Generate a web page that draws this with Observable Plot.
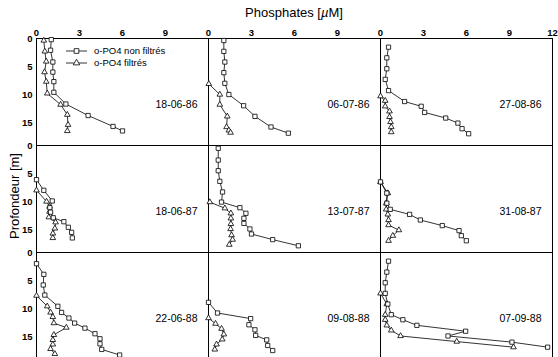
<!DOCTYPE html>
<html><head><meta charset="utf-8">
<script src="https://cdn.jsdelivr.net/npm/d3@7"></script>
<script src="https://cdn.jsdelivr.net/npm/@observablehq/plot@0.6"></script>
<style>
body{margin:0;background:#fff;font-family:"Liberation Sans",Arial,Helvetica,sans-serif;}
#wrap{position:relative;width:558px;height:357px;overflow:hidden;background:#fff}
#title{position:absolute;left:194px;width:200px;top:6px;text-align:center;font-size:13px;line-height:13px;color:#000}
#ylab{position:absolute;left:14px;top:196px;transform:translate(-50%,-50%) rotate(-90deg);white-space:nowrap;font-size:13px;line-height:13px;color:#000}
#legend{position:absolute;left:60px;top:42px}
</style></head><body>
<div id="wrap">
  <div id="chart"></div>
  <div id="title">Phosphates [<i>µ</i>M]</div>
  <div id="ylab">Profondeur [m]</div>
  <svg id="legend" width="130" height="30"></svg>
</div>
<script>
// Tick labels
const xTicks = [0, 3, 6, 9];
const xTickLast = [12];
const yTicks = [0, 5, 10, 15];
const seriesNames = ["o-PO4 non filtrés", "o-PO4 filtrés"];
const dates = ["18-06-86", "06-07-86", "27-08-86", "18-06-87", "13-07-87", "31-08-87", "22-06-88", "09-08-88", "07-09-88"];

// [depth (m), phosphate (µM)]
const nf_180686 = [[0.2,1.03],[2.1,0.98],[4.2,1.14],[6.0,1.14],[7.7,1.21],[9.6,1.21],[11.7,2.05],[13.75,3.6],[15.7,5.34],[16.5,6.0]];
const f_180686  = [[0.36,0.51],[2.3,0.58],[4.1,0.68],[6.0,0.56],[7.7,0.68],[9.8,0.75],[11.8,1.68],[13.6,2.15],[15.4,2.2],[16.5,2.15]];

const nf_060786 = [[0.36,1.07],[2.3,1.07],[4.2,1.14],[6.1,1.07],[8.0,1.14],[10,1.42],[12,2.45],[13.9,3.24],[15.8,4.36],[16.9,5.57]];
const f_060786  = [[8.1,0.02],[10,0.79],[11.8,0.79],[13.9,1.31],[15.8,1.26],[16.4,1.42],[16.8,1.54]];

const nf_270886 = [[1.55,0.56],[3.45,0.44],[5.4,0.44],[7.3,0.33],[9.3,0.56],[11.25,1.68],[12.1,2.84],[13.2,3.08],[14.2,4.55],[15.1,5.4],[16.1,5.69],[17,6.15]];
const f_270886  = [[10.3,0],[11.1,0.33],[12.1,0.33],[13,0.63],[14,0.63],[14.9,0.7],[15.8,0.75],[16.7,0.75]];

const nf_180687 = [[6.1,0],[8.0,0.51],[9.9,1.1],[11.1,0.93],[11.9,0.98],[12.9,1.17],[13.6,1.91],[14.6,2.22],[15.5,2.45],[16.5,2.5]];
const f_180687  = [[8.0,0],[10,0.7],[10.9,0.91],[11.8,0.91],[12.8,0.86],[13.7,1.33],[14.8,1.28],[15.7,1.14],[16.5,1.14]];

const nf_130787 = [[0.5,0.68],[2.6,0.68],[4.5,0.68],[6.4,0.79],[8.3,0.98],[10.1,0.91],[11.1,2.19],[12.1,2.61],[13,2.47],[13.9,2.47],[14.9,2.89],[15.8,3.0],[16.8,4.48],[17.9,6.27]];
const f_130787  = [[10.1,0.09],[11.2,1.14],[12.1,1.56],[13,1.56],[14,1.56],[14.9,1.54],[16,1.61],[16.8,1.68],[17.7,1.45]];

const nf_310887 = [[6.5,0],[8.5,0.44],[10.3,0.44],[11.4,0.68],[12.3,2.03],[13.3,2.78],[14.3,4.31],[15.2,5.48],[16.1,5.64],[17,5.99]];
const f_310887  = [[6.5,0],[8.5,0.51],[10.3,0.4],[11.4,0.4],[12.3,0.51],[13.3,0.56],[14.2,0.56],[15.1,1.28],[16.1,0.86],[17,0.56]];

const nf_220688 = [[2.0,0],[3.9,0.51],[5.8,0.47],[7.6,0.58],[9.6,1.49],[10.7,1.75],[11.7,2.26],[12.6,2.66],[13.5,3.38],[14.5,4.08],[15.4,4.43],[16.3,4.43],[17.3,4.55],[18.3,5.8]];
const f_220688  = [[7.7,0],[9.6,0.75],[10.7,0.98],[11.5,1.14],[12.6,1.21],[13.4,2.08],[14.7,1.21],[15.6,1.14],[16.4,1.14],[17.2,0.98],[18.1,1.28]];

const nf_090888 = [[8.9,0],[10.8,0.63],[11.8,2.94],[12.9,2.82],[13.8,3.24],[14.8,3.29],[15.6,4.06],[16.6,4.13],[17.5,4.48]];
const f_090888  = [[11.7,0],[12.7,0.49],[13.6,0.91],[14.6,1.07],[15.5,0.96],[16.4,0.56],[17.3,0.44]];

const nf_070988 = [[1.55,0.56],[3.5,0.44],[5.4,0.33],[7.3,0.33],[9.2,0.51],[11.1,0.75],[12.0,1.56],[13.0,2.54],[14.05,5.94],[14.9,4.71],[16.0,9.17],[16.9,11.66]];
const f_070988  = [[7.3,0],[9.2,0.44],[11.1,0.33],[12.0,0.33],[13.0,0.44],[13.9,0.75],[14.9,1.4],[15.9,5.32],[16.9,9.28]];

const nonFiltres = [nf_180686, nf_060786, nf_270886, nf_180687, nf_130787, nf_310887, nf_220688, nf_090888, nf_070988];
const filtres    = [f_180686, f_060786, f_270886, f_180687, f_130787, f_310887, f_220688, f_090888, f_070988];

const rows = [];
dates.forEach((date, i) => {
  const col = i % 3, row = Math.floor(i / 3);
  nonFiltres[i].forEach(([d, v]) => rows.push({col, row, depth: d, value: v, type: "nf"}));
  filtres[i].forEach(([d, v]) => rows.push({col, row, depth: d, value: v, type: "f"}));
});
const labels = dates.map((date, i) => ({col: i % 3, row: Math.floor(i / 3), date}));
const lastTick = xTickLast.map(v => ({col: 2, row: 0, v}));

const font = '"Liberation Sans",Arial,Helvetica,sans-serif';
const chart = Plot.plot({
  width: 558, height: 359,
  marginTop: 38, marginLeft: 36, marginRight: 6, marginBottom: 0,
  style: {fontFamily: font, fontSize: "9.5px", color: "black", background: "white"},
  x: {domain: [0, 12]},
  y: {domain: [0, 19.1], reverse: true},
  fx: {domain: [0, 1, 2], padding: 0, axis: null},
  fy: {domain: [0, 1, 2], padding: 0, axis: null},
  marks: [
    Plot.frame({stroke: "black", strokeWidth: 1}),
    Plot.axisX({anchor: "top", ticks: xTicks, tickSize: 0, tickPadding: 3, label: null, fontWeight: "bold"}),
    Plot.axisY({anchor: "left", ticks: yTicks, tickSize: 0, tickPadding: 4, label: null, fontWeight: "bold"}),
    Plot.text(lastTick, {fx: "col", fy: "row", x: "v", frameAnchor: "top", lineAnchor: "bottom", dy: -3, text: d => String(d.v), fontWeight: "bold"}),
    Plot.line(rows, {fx: "col", fy: "row", x: "value", y: "depth", z: "type", stroke: "black", strokeWidth: 0.8}),
    Plot.dot(rows.filter(d => d.type === "f"), {fx: "col", fy: "row", x: "value", y: "depth", symbol: "triangle", r: 2.1, fill: "white", stroke: "black", strokeWidth: 0.8}),
    Plot.dot(rows.filter(d => d.type === "nf"), {fx: "col", fy: "row", x: "value", y: "depth", symbol: "square", r: 2.4, fill: "white", stroke: "black", strokeWidth: 0.8}),
    Plot.text(labels, {fx: "col", fy: "row", frameAnchor: "right", textAnchor: "end", dx: -11, dy: 13, text: "date", fontSize: 10.5})
  ]
});
document.getElementById("chart").appendChild(chart);

// legend
const lg = d3.select("#legend");
const items = [{name: seriesNames[0], sym: "square"}, {name: seriesNames[1], sym: "triangle"}];
items.forEach((it, i) => {
  const g = lg.append("g").attr("transform", `translate(0,${9 + i * 12})`);
  g.append("line").attr("x1", 6).attr("x2", 27).attr("y1", 0).attr("y2", 0).attr("stroke", "black").attr("stroke-width", 0.8);
  const sym = it.sym === "square" ? d3.symbolSquare : d3.symbolTriangle;
  g.append("path").attr("transform", "translate(16.5,0)").attr("d", d3.symbol(sym, it.sym === "square" ? 22 : 18)())
    .attr("fill", "white").attr("stroke", "black").attr("stroke-width", 0.8);
  g.append("text").attr("x", 34).attr("y", 0).attr("dy", "0.35em").attr("font-size", 9.5).attr("font-family", font).text(it.name);
});
</script>
</body></html>
